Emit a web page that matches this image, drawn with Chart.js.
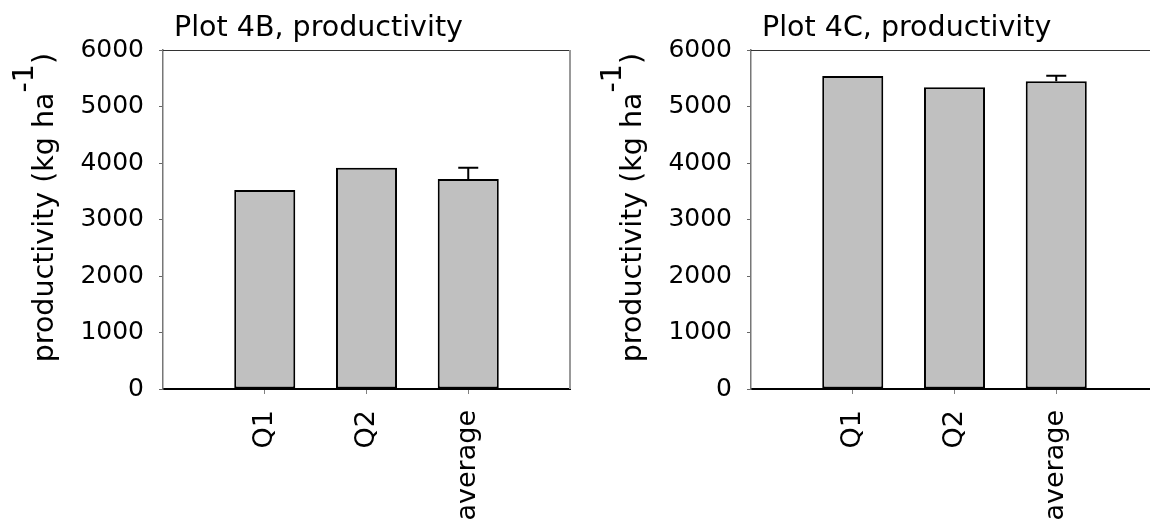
<!DOCTYPE html>
<html>
<head>
<meta charset="utf-8">
<script src="https://cdn.jsdelivr.net/npm/chart.js@4.4.0/dist/chart.umd.min.js"></script>
<style>
html, body { margin: 0; padding: 0; background: #fff; overflow: hidden; width: 1150px; height: 532px; }
.panel { position: absolute; top: 0; width: 588px; height: 532px; }
#panel-b { left: 0; }
#panel-c { left: 588px; }
</style>
</head>
<body>
<div class="panel" id="panel-b"><canvas id="chart-b" width="588" height="532"></canvas></div>
<div class="panel" id="panel-c"><canvas id="chart-c" width="588" height="532"></canvas></div>
<script>
// data
const categories = ["", "Q1", "Q2", "average", ""];
const yTicks = [0, 1000, 2000, 3000, 4000, 5000, 6000];

const plot4bValues = [null, 3520, 3915, 3717, null];
const plot4bErrors = [null, null, null, 200, null];

const plot4cValues = [null, 5540, 5340, 5445, null];
const plot4cErrors = [null, null, null, 100, null];

const FONT = '"DejaVu Sans", "Liberation Sans", Arial, sans-serif';

// top + right frame lines of the plot box
const framePlugin = {
    id: "frame",
    afterDatasetsDraw(chart) {
        let ctx = chart.ctx;
        let area = chart.chartArea;
        ctx.save();
        ctx.strokeStyle = "#333";
        ctx.lineWidth = 1;
        ctx.beginPath();
        ctx.moveTo(area.left, area.top + 0.5);
        ctx.lineTo(area.right, area.top + 0.5);
        ctx.stroke();
        ctx.strokeStyle = "#999";
        ctx.lineWidth = 2;
        ctx.beginPath();
        ctx.moveTo(area.right, area.top);
        ctx.lineTo(area.right, area.bottom);
        ctx.stroke();
        ctx.restore();
    }
};

// upper error bar, drawn from the bar top
const errorBarPlugin = {
    id: "errorBars",
    afterDatasetsDraw(chart, args, opts) {
        let ctx = chart.ctx;
        let meta = chart.getDatasetMeta(0);
        let yScale = chart.scales.y;
        ctx.save();
        ctx.strokeStyle = "#000";
        ctx.lineWidth = 2;
        opts.errors.forEach(function (err, i) {
            if (err === null) return;
            let bar = meta.data[i];
            let top = yScale.getPixelForValue(opts.values[i] + err);
            ctx.beginPath();
            ctx.moveTo(bar.x, bar.y);
            ctx.lineTo(bar.x, top);
            ctx.moveTo(bar.x - 10, top);
            ctx.lineTo(bar.x + 10, top);
            ctx.stroke();
        });
        ctx.restore();
    }
};

// panel title + y axis title with the superscript
const titlesPlugin = {
    id: "titles",
    afterDraw(chart, args, opts) {
        let ctx = chart.ctx;
        let area = chart.chartArea;
        ctx.save();
        ctx.fillStyle = "#000";
        ctx.font = "28.5px " + FONT;
        ctx.textBaseline = "alphabetic";
        ctx.textAlign = "left";
        ctx.fillText(opts.title, area.left + 11, 36);

        let main = "productivity (kg ha";
        let sup = "-1";
        let close = ")";
        let w1 = ctx.measureText(main).width;
        let w2 = ctx.measureText(sup).width;
        let w3 = ctx.measureText(close).width;
        let endY = 53;
        let startY = endY + w1 + w2 + w3;
        ctx.translate(53, 0);
        ctx.rotate(-Math.PI / 2);
        ctx.fillText(main, -startY, 0);
        ctx.fillText(sup, -startY + w1, -20);
        ctx.fillText(close, -startY + w1 + w2, 0);
        ctx.restore();
    }
};

function makeChart(canvasId, title, values, errors) {
    let ctx = document.getElementById(canvasId).getContext("2d");
    return new Chart(ctx, {
        type: "bar",
        data: {
            labels: categories,
            datasets: [{
                data: values,
                backgroundColor: "#c0c0c0",
                borderColor: "#000",
                borderWidth: 2,
                borderSkipped: false,
                barPercentage: 0.6,
                categoryPercentage: 1
            }]
        },
        options: {
            responsive: false,
            animation: false,
            layout: { padding: { top: 50, right: 18, left: 0, bottom: 0 } },
            plugins: {
                legend: { display: false },
                tooltip: { enabled: false },
                errorBars: { values: values, errors: errors },
                titles: { title: title }
            },
            scales: {
                x: {
                    offset: false,
                    afterFit: function (scale) {
                        scale.height = 143;
                        scale.paddingLeft = 0;
                        scale.paddingRight = 0;
                    },
                    grid: {
                        offset: false,
                        drawOnChartArea: false,
                        drawTicks: true,
                        tickLength: 5,
                        color: function (c) { return categories[c.index] ? "#808080" : "rgba(0,0,0,0)"; }
                    },
                    border: { color: "#000", width: 2 },
                    ticks: {
                        autoSkip: false,
                        minRotation: 90,
                        maxRotation: 90,
                        padding: 16,
                        color: "#000",
                        font: { family: FONT, size: 27 }
                    }
                },
                y: {
                    min: 0,
                    max: 6000,
                    afterFit: function (scale) { scale.width = 163; },
                    afterBuildTicks: function (scale) {
                        scale.ticks = yTicks.map(function (v) { return { value: v }; });
                    },
                    grid: {
                        drawOnChartArea: false,
                        drawTicks: true,
                        tickLength: 4,
                        color: "#666"
                    },
                    border: { color: "#777", width: 1.5 },
                    ticks: {
                        padding: 15,
                        color: "#000",
                        font: { family: FONT, size: 25 },
                        callback: function (v) { return String(v); }
                    }
                }
            }
        },
        plugins: [framePlugin, errorBarPlugin, titlesPlugin]
    });
}

makeChart("chart-b", "Plot 4B, productivity", plot4bValues, plot4bErrors);
makeChart("chart-c", "Plot 4C, productivity", plot4cValues, plot4cErrors);
</script>
</body>
</html>
